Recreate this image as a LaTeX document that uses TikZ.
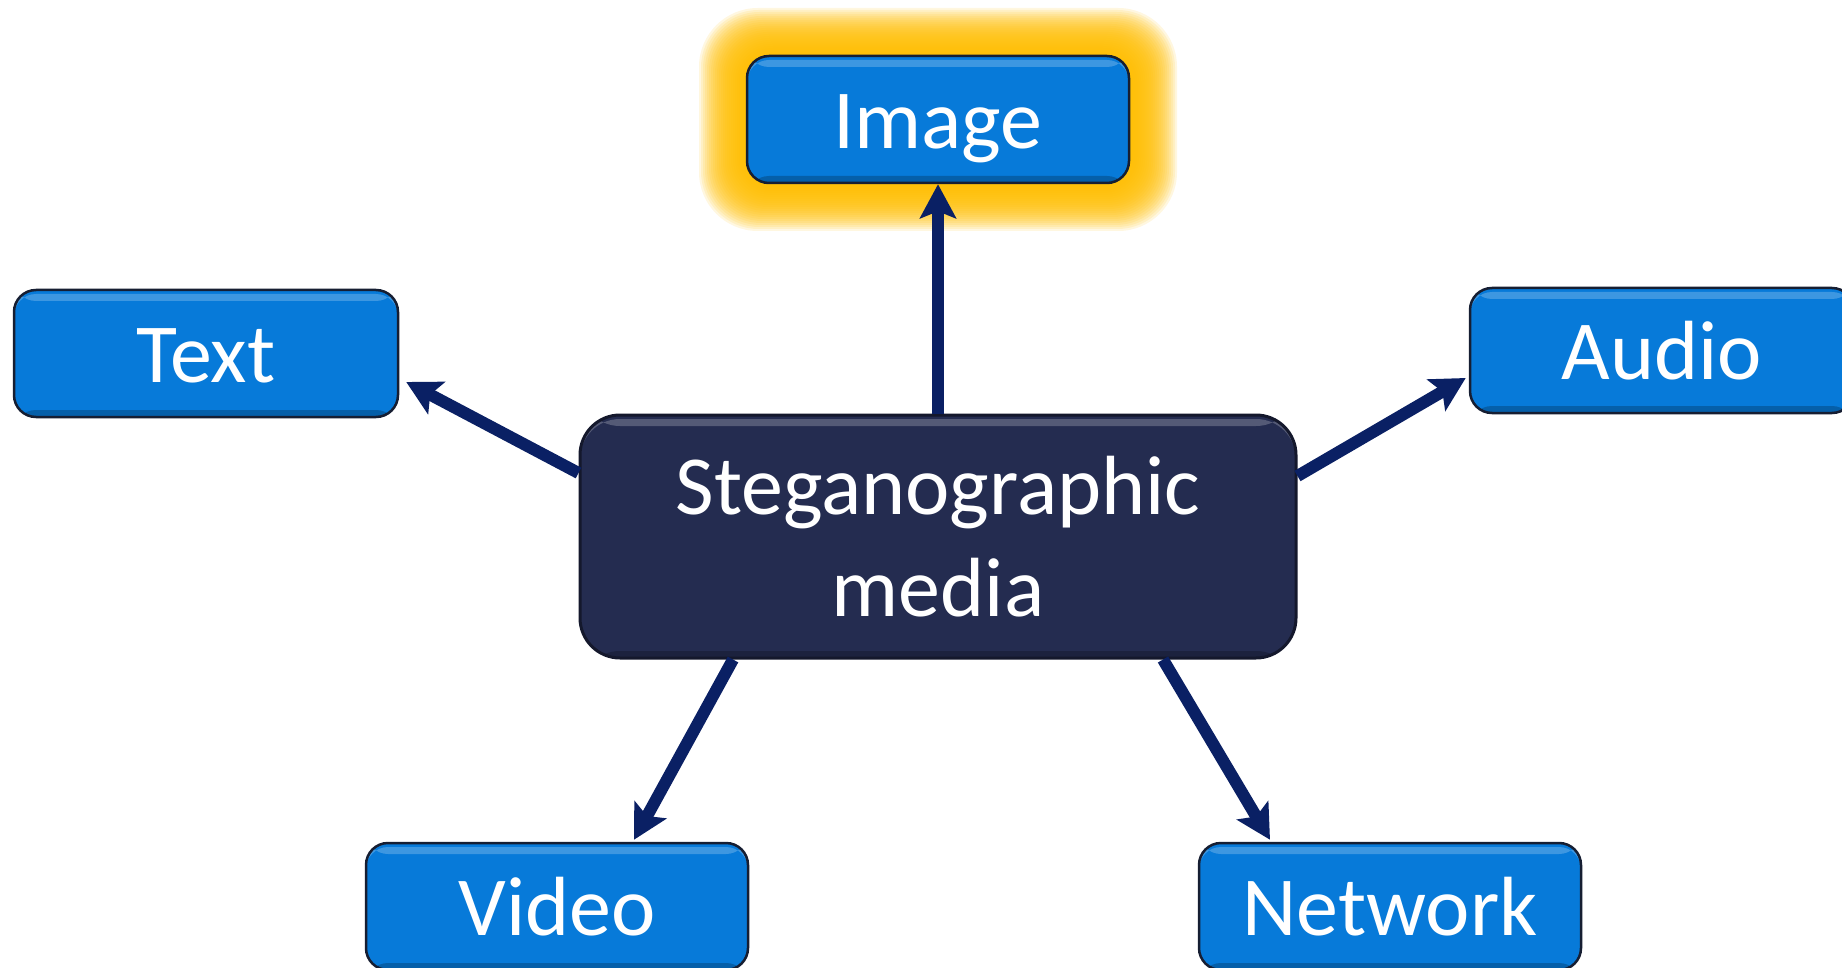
\documentclass[tikz,border=0pt]{standalone}
\usepackage{fontspec}
\setmainfont{Carlito}
\usetikzlibrary{arrows.meta,calc}
\definecolor{boxblue}{RGB}{7,122,217}
\definecolor{boxedge}{RGB}{22,30,50}
\definecolor{centfill}{RGB}{36,44,80}
\definecolor{centedge}{RGB}{20,24,44}
\definecolor{arrownavy}{RGB}{10,32,100}
\definecolor{glowc}{RGB}{255,192,0}
\begin{document}
\begin{tikzpicture}[x=1pt,y=1pt,
  bevel/.style={path picture={
    \fill[white,opacity=0.22] ([yshift=-4pt]path picture bounding box.north west) rectangle ([yshift=-11pt]path picture bounding box.north east);
    \fill[black,opacity=0.22] (path picture bounding box.south west) rectangle ([yshift=7pt]path picture bounding box.south east);
  }},
  mediabox/.style={draw=boxedge, line width=2.5pt, fill=boxblue, rounded corners=22pt,
    minimum width=382pt, minimum height=127pt, inner sep=0pt, text=white,
    font=\fontsize{84}{102}\selectfont, text height=58pt, text depth=0pt, bevel},
  centerbox/.style={draw=centedge, line width=3pt, fill=centfill, rounded corners=40pt,
    minimum width=716pt, minimum height=243pt, inner sep=0pt, text=white, align=center,
    font=\fontsize{84}{102}\selectfont, bevel},
  link/.style={draw=arrownavy, line width=12pt,
    -{Stealth[length=34pt, width=36pt, inset=7pt]}}
]
\useasboundingbox (0,0) rectangle (1842,-968);
\fill[white] (0,0) rectangle (1842,-968);

% soft glow behind the Image box
\foreach \e in {48,46,...,4}
  \fill[glowc, opacity=0.12, rounded corners=30pt+0.6*\e] (747-\e,-56+\e) rectangle (1129+\e,-183-\e);

\node[centerbox] (c) at (938,-536.5) {Steganographic\\media};
\node[mediabox] (img) at (938,-119.5) {Image};
\node[mediabox, minimum width=384pt] (txt) at (206,-353.5) {Text};
\node[mediabox, minimum width=384pt, minimum height=125pt] (aud) at (1662,-350.5) {Audio};
\node[mediabox] (vid) at (557,-906.5) {Video};
\node[mediabox] (net) at (1390,-906.5) {Network};

\draw[link] (c.north) -- (img.south);
\draw[link] ([yshift=63.5pt]c.west) -- ([xshift=7pt,yshift=-28.5pt]txt.east);
\draw[link] ([yshift=60.5pt]c.east) -- ([xshift=-3pt,yshift=-27.5pt]aud.west);
\draw[link] ([xshift=-205pt]c.south) -- ([xshift=77pt,yshift=2pt]vid.north);
\draw[link] ([xshift=225pt]c.south) -- ([xshift=-120pt,yshift=2pt]net.north);
\end{tikzpicture}
\end{document}
